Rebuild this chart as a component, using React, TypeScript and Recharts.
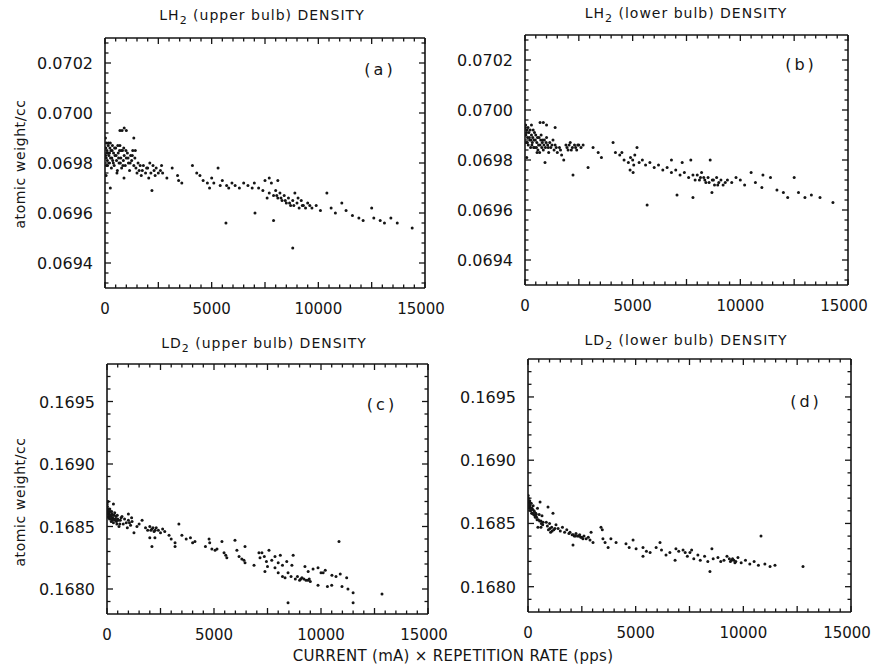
import React from "react"
import { ScatterChart, Scatter, XAxis, YAxis } from "recharts"

type Pt = [number, number]

// current (mA) x repetition rate (pps), density (atomic weight/cc)
const lh2Upper: Pt[] = [
  [20, 0.0699], [40, 0.06986], [60, 0.06982], [80, 0.06988], [100, 0.06984], [120, 0.06979], [150, 0.06987],
  [180, 0.06983], [200, 0.0698], [230, 0.06986], [260, 0.06982], [300, 0.06978], [330, 0.06985], [360, 0.06981],
  [400, 0.06984], [430, 0.06979], [470, 0.06983], [500, 0.06986], [540, 0.06981], [580, 0.06977], [620, 0.06984],
  [660, 0.0698], [700, 0.06987], [740, 0.06982], [780, 0.06978], [820, 0.06985], [860, 0.06981], [900, 0.06983],
  [950, 0.06979], [1000, 0.06982], [1050, 0.06984], [1100, 0.0698], [1150, 0.06977], [1200, 0.06983],
  [1250, 0.06981], [1300, 0.06985], [1350, 0.06979], [1400, 0.06982], [1450, 0.06978], [1500, 0.06976],
  [1550, 0.0698], [1600, 0.06977], [1700, 0.06975], [1800, 0.06979], [1900, 0.06976], [2000, 0.06978],
  [2050, 0.06974], [2100, 0.0698], [2150, 0.06976], [2250, 0.06979], [2300, 0.06977], [2400, 0.06978],
  [2500, 0.06976], [2650, 0.06979], [700, 0.06993], [800, 0.06993], [900, 0.06994], [1000, 0.06993],
  [1350, 0.0699], [250, 0.0697], [50, 0.06975], [560, 0.06976], [890, 0.06974], [2200, 0.06969],
  [10, 0.06986], [30, 0.06983], [70, 0.06979], [90, 0.06985], [110, 0.06981], [140, 0.06984], [170, 0.06988],
  [210, 0.06984], [250, 0.06988], [280, 0.06985], [320, 0.06982], [350, 0.06987], [390, 0.0698], [450, 0.06986],
  [520, 0.06983], [600, 0.06987], [640, 0.06982], [680, 0.06985], [720, 0.0698], [760, 0.06985], [840, 0.06979],
  [880, 0.06986], [980, 0.06985], [1080, 0.06982], [1180, 0.0698], [1280, 0.06983], [1420, 0.06985],
  [1650, 0.06979], [1750, 0.06977], [1950, 0.06978], [2350, 0.06975], [2600, 0.06977], [2700, 0.06976],
  [2900, 0.06974], [3150, 0.06978], [3400, 0.06975], [3450, 0.06973], [3600, 0.06972], [4100, 0.06979],
  [4300, 0.06976], [4450, 0.06975], [4600, 0.06973], [4800, 0.06972], [5000, 0.06974], [5100, 0.06972],
  [5300, 0.06978], [5400, 0.06971], [5500, 0.06973], [5700, 0.06971], [5800, 0.0697], [5950, 0.06972],
  [6100, 0.06971], [6300, 0.0697], [6500, 0.06972], [6700, 0.06971], [6900, 0.0697], [7000, 0.06972],
  [7200, 0.0697], [7400, 0.06969], [7500, 0.06973], [7600, 0.06966], [7700, 0.06968], [7800, 0.06972],
  [7900, 0.06967], [8000, 0.06969], [8100, 0.06966], [8200, 0.06968], [8300, 0.06965], [8400, 0.06967],
  [8500, 0.06964], [8600, 0.06966], [8700, 0.06963], [8800, 0.06965], [8900, 0.06968], [9000, 0.06964],
  [9100, 0.06962], [9200, 0.06965], [9300, 0.06963], [9500, 0.06964], [9700, 0.06962], [9900, 0.06963],
  [8050, 0.06967], [8250, 0.06966], [8450, 0.06965], [8650, 0.06964], [8850, 0.06963], [9050, 0.06966],
  [9250, 0.06963], [9400, 0.06962], [9600, 0.06963],
  [10100, 0.06961], [10400, 0.06968], [10600, 0.06962], [10800, 0.0696], [11100, 0.06964], [11300, 0.06961],
  [11600, 0.06959], [11900, 0.06958], [12100, 0.06957], [12500, 0.06962], [12600, 0.06958], [12900, 0.06957],
  [13100, 0.06956], [13400, 0.06958], [13700, 0.06956], [14400, 0.06954], [5670, 0.06956], [7030, 0.0696],
  [7900, 0.06957], [8800, 0.06946], [4900, 0.0697], [7700, 0.06974], [8100, 0.06973],
]

const lh2Lower: Pt[] = [
  [20, 0.06993], [40, 0.0699], [60, 0.06987], [90, 0.06992], [120, 0.06989], [150, 0.06986], [180, 0.06991],
  [220, 0.06988], [260, 0.06985], [300, 0.0699], [340, 0.06987], [380, 0.06992], [420, 0.06988], [460, 0.06985],
  [500, 0.0699], [550, 0.06987], [600, 0.06984], [650, 0.06989], [700, 0.06986], [750, 0.0699], [800, 0.06987],
  [850, 0.06984], [900, 0.06988], [950, 0.06985], [1000, 0.06989], [1050, 0.06986], [1100, 0.06983],
  [1150, 0.06987], [1200, 0.06985], [1300, 0.06988], [1350, 0.06984], [1400, 0.06986], [1500, 0.06983],
  [1600, 0.06985], [1700, 0.06982], [1900, 0.06986], [2000, 0.06984], [2100, 0.06987], [2200, 0.06985],
  [2300, 0.06986], [2400, 0.06984], [2500, 0.06986], [2600, 0.06985], [2700, 0.06986], [700, 0.06995],
  [10, 0.0699], [30, 0.06994], [70, 0.06991], [110, 0.06987], [140, 0.06993], [200, 0.06989], [240, 0.06992],
  [280, 0.06988], [320, 0.06986], [360, 0.06989], [400, 0.06985], [440, 0.06991], [480, 0.06988], [530, 0.06985],
  [580, 0.06989], [630, 0.06986], [680, 0.06983], [730, 0.06988], [780, 0.06985], [830, 0.06988], [880, 0.06986],
  [980, 0.06987], [1080, 0.06985], [1250, 0.06986], [1450, 0.06985], [1650, 0.06984], [1950, 0.06985],
  [2050, 0.06986], [2150, 0.06984], [2350, 0.06985], [2450, 0.06986],
  [850, 0.06995], [1000, 0.06994], [1400, 0.06993], [300, 0.06994], [560, 0.06983], [930, 0.06979],
  [2230, 0.06974], [2930, 0.06977], [1800, 0.0698], [80, 0.06981], [3160, 0.06985], [3400, 0.06983],
  [3550, 0.06981], [4090, 0.06987], [4200, 0.06983], [4400, 0.06982], [4600, 0.0698], [4800, 0.06979],
  [4900, 0.06981], [5000, 0.0698], [5050, 0.06978], [5100, 0.06982], [5200, 0.06985], [5300, 0.06979],
  [5450, 0.0698], [4880, 0.06976], [5020, 0.06975], [5600, 0.06978], [5800, 0.06979], [6000, 0.06977],
  [6200, 0.06978], [6400, 0.06976], [6600, 0.06977], [6800, 0.06975], [7000, 0.06976], [7200, 0.06974],
  [7400, 0.06975], [7600, 0.06973], [7700, 0.0698], [7800, 0.06974], [7900, 0.06972], [8000, 0.06974],
  [8100, 0.06972], [8200, 0.06975], [8300, 0.06973], [8400, 0.06971], [8600, 0.0698], [8500, 0.06973],
  [8700, 0.06972], [8800, 0.0697], [8900, 0.06973], [9000, 0.06971], [9200, 0.0697], [9400, 0.06972],
  [8150, 0.06973], [8350, 0.06972], [8550, 0.06971], [8750, 0.06972], [8950, 0.0697], [9100, 0.06972],
  [9300, 0.06971],
  [9600, 0.06971], [9800, 0.06973], [10000, 0.06972], [10200, 0.0697], [10500, 0.06975], [10700, 0.06971],
  [11000, 0.06969], [11050, 0.06974], [11400, 0.06973], [11700, 0.06968], [12000, 0.06967], [12200, 0.06965],
  [12500, 0.06973], [12700, 0.06967], [13000, 0.06965], [13300, 0.06966], [13700, 0.06965], [14300, 0.06963],
  [7060, 0.06966], [5670, 0.06962], [7800, 0.06965], [8680, 0.06967], [4500, 0.06983], [6800, 0.0698],
  [7300, 0.06979],
]

const ld2Upper: Pt[] = [
  [20, 0.16866], [40, 0.16862], [60, 0.16858], [80, 0.16864], [100, 0.1686], [120, 0.16856], [150, 0.16862],
  [180, 0.16858], [200, 0.16854], [230, 0.1686], [260, 0.16857], [300, 0.16853], [340, 0.16859], [380, 0.16855],
  [420, 0.16858], [460, 0.16852], [500, 0.16856], [560, 0.1685], [620, 0.16855], [700, 0.16858], [760, 0.16852],
  [10, 0.16868], [30, 0.16864], [50, 0.1686], [70, 0.16857], [90, 0.16862], [110, 0.16858], [130, 0.16864],
  [160, 0.16859], [190, 0.16856], [220, 0.16862], [250, 0.16855], [280, 0.16859], [320, 0.16856], [360, 0.16861],
  [400, 0.16856], [440, 0.16854], [480, 0.16859], [530, 0.16855], [600, 0.16852], [660, 0.16857],
  [1050, 0.16853], [1150, 0.16857], [2050, 0.16847], [2150, 0.16849], [2250, 0.16847],
  [820, 0.16856], [900, 0.16853], [950, 0.16849], [1000, 0.16855], [1100, 0.16851], [1170, 0.16854],
  [1260, 0.16845], [1400, 0.1685], [1500, 0.16852], [1640, 0.16855], [1800, 0.16849], [1900, 0.16847],
  [2000, 0.1685], [2100, 0.16848], [2200, 0.16846], [2300, 0.16849], [2400, 0.16847], [2500, 0.16845],
  [2600, 0.16848], [2700, 0.16846], [50, 0.1687], [300, 0.16868], [1000, 0.1686], [2000, 0.16841],
  [2240, 0.16841], [2100, 0.16834], [2900, 0.16843], [3000, 0.1684], [3180, 0.16837], [3360, 0.16852],
  [3500, 0.16843], [3700, 0.1684], [3900, 0.16841], [4110, 0.16838], [3180, 0.16834], [4000, 0.16837],
  [4770, 0.1684], [4800, 0.16837], [4600, 0.16834], [4900, 0.16832], [5050, 0.16831], [5140, 0.16832],
  [5370, 0.16838], [5470, 0.16829], [5550, 0.16827], [5600, 0.16825], [5980, 0.16839], [6070, 0.16831],
  [6170, 0.16826], [6300, 0.16824], [6400, 0.16823], [6450, 0.16834], [6450, 0.16821], [6870, 0.16819],
  [7100, 0.16829], [7150, 0.16825], [7240, 0.16829], [7350, 0.16826], [7450, 0.16822], [7380, 0.16814],
  [7500, 0.16818], [7570, 0.16831], [7700, 0.16823], [7850, 0.16826], [8000, 0.16821], [8100, 0.16827],
  [8200, 0.16819], [8400, 0.16822], [8640, 0.16819], [8700, 0.16827], [7850, 0.16817], [8000, 0.16813],
  [8200, 0.1681], [8320, 0.16809], [8460, 0.16813], [8600, 0.1681], [8800, 0.16808], [9000, 0.16807],
  [9200, 0.16808], [9300, 0.16807], [9450, 0.16808], [8900, 0.1681], [9050, 0.16808],
  [9110, 0.16809], [9250, 0.16818], [9400, 0.16814], [9390, 0.16807], [9500, 0.16806], [9630, 0.16816],
  [9860, 0.16817], [10000, 0.16813], [10200, 0.16815], [10510, 0.16811], [9860, 0.16803], [10100, 0.16813],
  [10300, 0.16802], [10500, 0.16803], [10700, 0.1681], [10900, 0.16812], [11200, 0.16809], [10840, 0.16838],
  [10980, 0.16802], [11260, 0.168], [11500, 0.16797], [11500, 0.16789], [12850, 0.16796], [8460, 0.16789],
]

const ld2Lower: Pt[] = [
  [20, 0.1687], [40, 0.16866], [60, 0.16862], [80, 0.16868], [100, 0.16864], [120, 0.1686], [150, 0.16866],
  [180, 0.16862], [200, 0.16858], [240, 0.16864], [280, 0.1686], [320, 0.16856], [360, 0.16858], [400, 0.16855],
  [440, 0.16862], [480, 0.16853], [520, 0.16857], [560, 0.16867], [600, 0.16852], [650, 0.16856], [700, 0.16851],
  [10, 0.16872], [30, 0.16868], [50, 0.16864], [70, 0.16866], [90, 0.16862], [110, 0.16866], [130, 0.16862],
  [170, 0.16858], [210, 0.16861], [260, 0.16857], [300, 0.16859], [340, 0.16855], [380, 0.16857], [420, 0.16853],
  [540, 0.16852], [620, 0.1685], [680, 0.16849], [1020, 0.16846], [1120, 0.16844], [1250, 0.16846],
  [2100, 0.16841], [2200, 0.1684], [2350, 0.1684], [2450, 0.16839],
  [460, 0.16847], [600, 0.16847], [930, 0.16863], [1160, 0.16858], [850, 0.16851], [900, 0.16848], [950, 0.16845],
  [1000, 0.1685], [1050, 0.16843], [1100, 0.16847], [1200, 0.16845], [1300, 0.16849], [1400, 0.16846],
  [1500, 0.16844], [1600, 0.16847], [1700, 0.16843], [1800, 0.16845], [1900, 0.16842], [1950, 0.16843],
  [2050, 0.16841], [2150, 0.1684], [2230, 0.16842], [2300, 0.1684], [2400, 0.16841], [2500, 0.16839],
  [2600, 0.1684], [2700, 0.16838], [2800, 0.16839], [2880, 0.16837], [2090, 0.16833], [2550, 0.16838],
  [3020, 0.16835], [2930, 0.16843], [3390, 0.16847], [3450, 0.16845], [3480, 0.16838], [3580, 0.16835],
  [3720, 0.16831], [3850, 0.16838], [4090, 0.16835], [4550, 0.16834], [4700, 0.16831], [4880, 0.16837],
  [5020, 0.1683], [5340, 0.16831], [5500, 0.16828], [5670, 0.16827], [5340, 0.16824], [5950, 0.16831],
  [6130, 0.16835], [6200, 0.16829], [6410, 0.16825], [6590, 0.16827], [6830, 0.16821], [6870, 0.1683],
  [7000, 0.16828], [7200, 0.16829], [7300, 0.16827], [7520, 0.16827], [7400, 0.16824], [7600, 0.16829],
  [7700, 0.16822], [7890, 0.16825], [8000, 0.16821], [8200, 0.16824], [8350, 0.1682], [8540, 0.1683],
  [8450, 0.16812], [8600, 0.16822], [8820, 0.16823], [8950, 0.1682], [9100, 0.16821], [9240, 0.16824],
  [9400, 0.1682], [9560, 0.16821], [9610, 0.16819], [9750, 0.16823], [9900, 0.16819], [10100, 0.16821],
  [9450, 0.16821], [9500, 0.16822], [9650, 0.1682], [9350, 0.16822],
  [10300, 0.16818], [10500, 0.1682], [10700, 0.16817], [11000, 0.16818], [10820, 0.1684], [11240, 0.16816],
  [11470, 0.16817], [12770, 0.16816],
]

const xLabels = [0, 5000, 10000, 15000]
const lh2Labels = [0.0694, 0.0696, 0.0698, 0.07, 0.0702]
const ld2Labels = [0.168, 0.1685, 0.169, 0.1695]

const xMinor = Array.from({ length: 31 }, (_, i) => i * 500)
const lh2Minor = Array.from({ length: 25 }, (_, i) => +(0.06932 + i * 0.00004).toFixed(5))
const ld2Minor = Array.from({ length: 19 }, (_, i) => +(0.1679 + i * 0.0001).toFixed(4))

const INK = "#151515"
const FONT = "'DejaVu Sans', sans-serif"

const has = (list: number[], v: number) => list.some((l) => Math.abs(l - v) < 1e-9)

function XTick(props: any) {
  const { x, y, payload, side } = props
  const v = payload.value
  const len = v % 2500 === 0 ? 6 : 3.5
  const dir = side === "top" ? 1 : -1
  // the last label sits a little left of its tick, as in the original
  const shift = v === 15000 ? -4 : 0
  return (
    <g>
      <line x1={x} y1={y} x2={x} y2={y + dir * len} stroke={INK} strokeWidth={1.3} />
      {side === "bottom" && has(xLabels, v) && (
        <text x={x + shift} y={y + 26} textAnchor="middle" fontSize={15} fontFamily={FONT} fill={INK}>
          {v}
        </text>
      )}
    </g>
  )
}

function YTick(props: any) {
  const { x, y, payload, side, labels } = props
  const v = payload.value
  const major = has(labels, v)
  const len = major ? 6 : 3.5
  const dir = side === "left" ? 1 : -1
  return (
    <g>
      <line x1={x} y1={y} x2={x + dir * len} y2={y} stroke={INK} strokeWidth={1.3} />
      {side === "left" && major && (
        <text x={x - 12} y={y + 6} textAnchor="end" fontSize={16} fontFamily={FONT} fill={INK}>
          {v.toFixed(4)}
        </text>
      )}
    </g>
  )
}

type Box = { l: number; r: number; t: number; b: number }

function Panel({ pts, box, yDomain, yMinor, labels }: { pts: Pt[]; box: Box; yDomain: [number, number]; yMinor: number[]; labels: number[] }) {
  const L = 80, R = 30, T = 4, B = 34
  const data = pts.map(([x, y]) => ({ x, y }))
  const line = { stroke: INK, strokeWidth: 1.6 }
  return (
    <div style={{ position: "absolute", left: box.l - L, top: box.t - T }}>
      <ScatterChart width={box.r - box.l + L + R} height={box.b - box.t + T + B} margin={{ top: 0, right: 0, bottom: 0, left: 0 }}>
        <XAxis xAxisId="b" type="number" dataKey="x" domain={[0, 15000]} allowDataOverflow ticks={xMinor} interval={0}
          orientation="bottom" height={B} tickSize={0} tickMargin={0} tickLine={false} axisLine={line}
          tick={(p: any) => <XTick {...p} side="bottom" />} />
        <XAxis xAxisId="t" type="number" dataKey="x" domain={[0, 15000]} allowDataOverflow ticks={xMinor} interval={0}
          orientation="top" height={T} tickSize={0} tickMargin={0} tickLine={false} axisLine={line}
          tick={(p: any) => <XTick {...p} side="top" />} />
        <YAxis yAxisId="l" type="number" dataKey="y" domain={yDomain} allowDataOverflow ticks={yMinor} interval={0}
          orientation="left" width={L} tickSize={0} tickMargin={0} tickLine={false} axisLine={line}
          tick={(p: any) => <YTick {...p} side="left" labels={labels} />} />
        <YAxis yAxisId="r" type="number" dataKey="y" domain={yDomain} allowDataOverflow ticks={yMinor} interval={0}
          orientation="right" width={R} tickSize={0} tickMargin={0} tickLine={false} axisLine={line}
          tick={(p: any) => <YTick {...p} side="right" labels={labels} />} />
        <Scatter data={data} xAxisId="b" yAxisId="l" isAnimationActive={false}
          shape={(p: any) => <circle cx={p.cx} cy={p.cy} r={1.5} fill={INK} />} />
      </ScatterChart>
    </div>
  )
}

function Label({ x, y, children, size = 14, rotate = 0, spacing = 0.5 }: any) {
  return (
    <div style={{
      position: "absolute", left: x, top: y, transform: `translate(-50%, -50%) rotate(${rotate}deg)`,
      whiteSpace: "nowrap", fontFamily: FONT, fontSize: size, color: INK, letterSpacing: spacing, lineHeight: 1,
    }}>
      {children}
    </div>
  )
}

const sub = { fontSize: 11, verticalAlign: "-4px" }

export default function App() {
  return (
    <div style={{ position: "absolute", left: 0, top: 0, width: 874, height: 668, background: "#fff", overflow: "hidden" }}>
      <Panel pts={lh2Upper} box={{ l: 105, r: 425, t: 38, b: 288 }} yDomain={[0.0693, 0.0703]} yMinor={lh2Minor} labels={lh2Labels} />
      <Panel pts={lh2Lower} box={{ l: 525, r: 848, t: 35, b: 285 }} yDomain={[0.0693, 0.0703]} yMinor={lh2Minor} labels={lh2Labels} />
      <Panel pts={ld2Upper} box={{ l: 107, r: 428, t: 364, b: 614 }} yDomain={[0.1678, 0.1698]} yMinor={ld2Minor} labels={ld2Labels} />
      <Panel pts={ld2Lower} box={{ l: 528, r: 851, t: 359, b: 612 }} yDomain={[0.1678, 0.1698]} yMinor={ld2Minor} labels={ld2Labels} />

      <Label x={262} y={17} spacing={1}>LH<span style={sub}>2</span> (upper bulb) DENSITY</Label>
      <Label x={686} y={15} spacing={1}>LH<span style={sub}>2</span> (lower bulb) DENSITY</Label>
      <Label x={264} y={345} spacing={1}>LD<span style={sub}>2</span> (upper bulb) DENSITY</Label>
      <Label x={686} y={342} spacing={1}>LD<span style={sub}>2</span> (lower bulb) DENSITY</Label>

      <Label x={20} y={164} rotate={-90} spacing={0.6}>atomic weight/cc</Label>
      <Label x={20} y={502} rotate={-90} spacing={0.6}>atomic weight/cc</Label>

      <Label x={380} y={70} size={16} spacing={3}>(a)</Label>
      <Label x={801} y={65} size={16} spacing={3}>(b)</Label>
      <Label x={382} y={405} size={16} spacing={3}>(c)</Label>
      <Label x={806} y={402} size={16} spacing={3}>(d)</Label>

      <Label x={453} y={656} size={15} spacing={0.3}>CURRENT (mA) × REPETITION RATE (pps)</Label>
    </div>
  )
}
